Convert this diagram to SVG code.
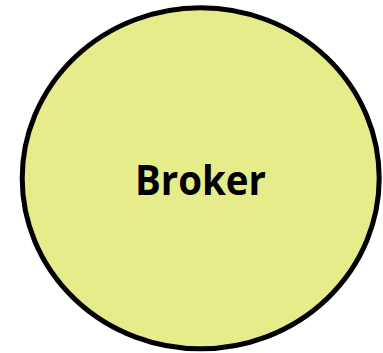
<svg xmlns="http://www.w3.org/2000/svg" width="383" height="353" viewBox="0 0 383 353">
<style>
.node{fill:#E6EC8A;stroke:#000;stroke-width:5}
.label{font-family:"Open Sans","Noto Sans","Liberation Sans",sans-serif;font-weight:bold;font-size:42px;fill:#000;text-anchor:middle}
</style>
<rect width="383" height="353" fill="#fff"/>
<g id="connectors"></g>
<g id="broker">
<ellipse class="node" cx="200.7" cy="178.3" rx="178.5" ry="170.5"/>
<text class="label" x="200.5" y="195" textLength="131" lengthAdjust="spacingAndGlyphs">Broker</text>
</g>
</svg>
